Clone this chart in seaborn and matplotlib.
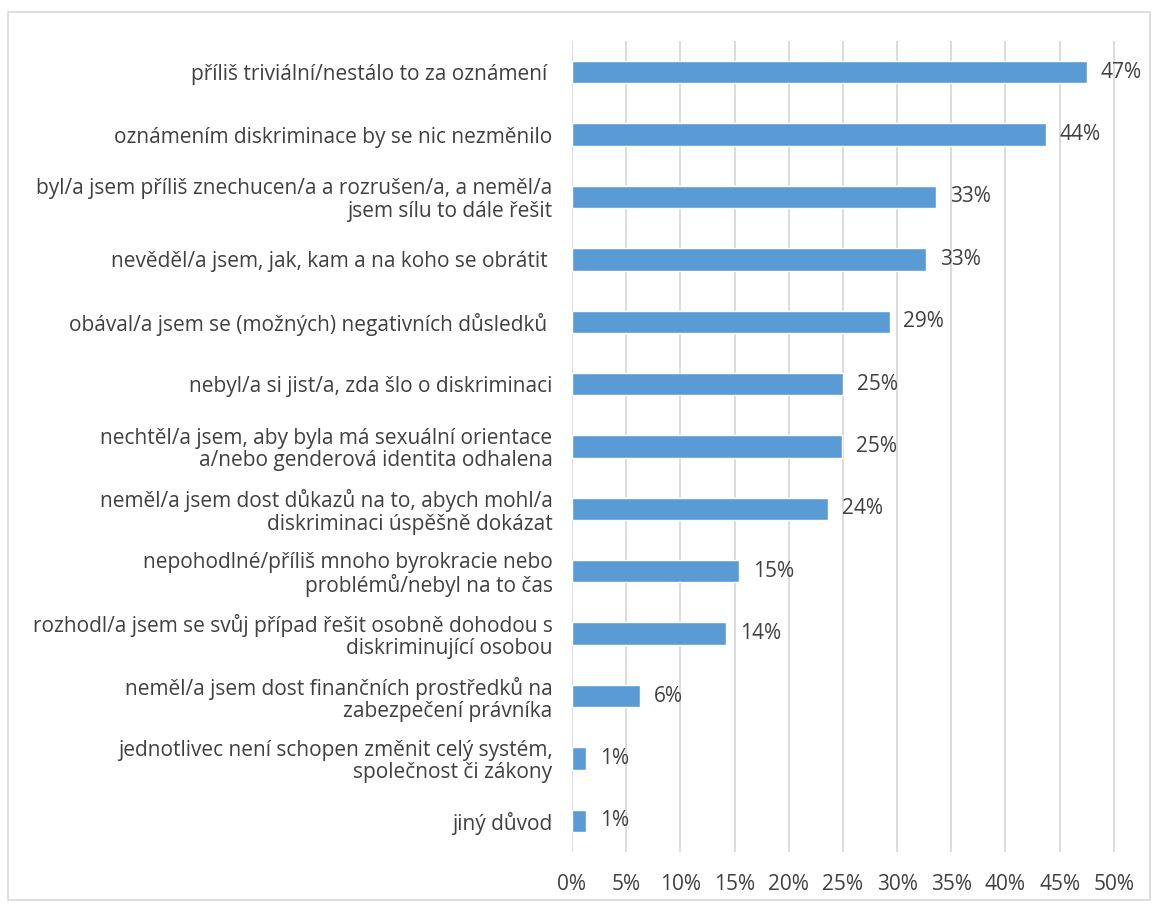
import matplotlib
matplotlib.use("Agg")
import matplotlib.pyplot as plt
import seaborn as sns
import pandas as pd
from matplotlib.patches import Rectangle

categories = [
    "příliš triviální/nestálo to za oznámení ",
    "oznámením diskriminace by se nic nezměnilo",
    "byl/a jsem příliš znechucen/a a rozrušen/a, a neměl/a\njsem sílu to dále řešit",
    "nevěděl/a jsem, jak, kam a na koho se obrátit ",
    "obával/a jsem se (možných) negativních důsledků ",
    "nebyl/a si jist/a, zda šlo o diskriminaci",
    "nechtěl/a jsem, aby byla má sexuální orientace\na/nebo genderová identita odhalena",
    "neměl/a jsem dost důkazů na to, abych mohl/a\ndiskriminaci úspěšně dokázat",
    "nepohodlné/příliš mnoho byrokracie nebo\nproblémů/nebyl na to čas",
    "rozhodl/a jsem se svůj případ řešit osobně dohodou s\ndiskriminující osobou",
    "neměl/a jsem dost finančních prostředků na\nzabezpečení právníka",
    "jednotlivec není schopen změnit celý systém,\nspolečnost či zákony",
    "jiný důvod",
]
values = [47.5, 43.7, 33.6, 32.7, 29.3, 25.0, 24.9, 23.6, 15.4, 14.2, 6.3, 1.3, 1.3]
labels = ["47%", "44%", "33%", "33%", "29%", "25%", "25%", "24%", "15%", "14%", "6%", "1%", "1%"]
xticks = [0, 5, 10, 15, 20, 25, 30, 35, 40, 45, 50]

sns.set_style("white")
plt.rcParams["font.family"] = ["Open Sans", "DejaVu Sans"]
text_color = "#404040"
fs = 15

df = pd.DataFrame({"cat": categories, "val": values})

fig = plt.figure(figsize=(11.56, 9.07), dpi=100)
ax = fig.add_axes([572 / 1156, 1 - 852 / 907, (1116 - 572) / 1156, (852 - 41) / 907])

sns.barplot(data=df, x="val", y="cat", color="#5B9BD5", width=0.36, ax=ax,
            saturation=1, orient="h")

ax.set_xlim(0, 50.2)
ax.set_xticks(xticks)
ax.set_xticklabels([f"{t}%" for t in xticks], fontsize=fs, color=text_color)
ax.tick_params(axis="y", labelsize=fs, labelcolor=text_color, length=0, pad=14)
ax.tick_params(axis="x", length=0, pad=16)
for lab in ax.get_yticklabels():
    lab.set_linespacing(1.08)
ax.set_xlabel("")
ax.set_ylabel("")
ax.grid(axis="x", color="#D9D9D9", linewidth=1.3)
ax.set_axisbelow(True)
for s in ax.spines.values():
    s.set_visible(False)

for i, (v, l) in enumerate(zip(values, labels)):
    ax.annotate(l, xy=(v, i), xytext=(10, 0), textcoords="offset points",
                va="center", ha="left", fontsize=fs, color=text_color)

fig.patches.append(Rectangle((8 / 1156, 1 - 900 / 907), (1150 - 8) / 1156, (900 - 12) / 907,
                             transform=fig.transFigure, fill=False,
                             edgecolor="#D9D9D9", linewidth=1.2))

fig.savefig("out.png", dpi=100)
